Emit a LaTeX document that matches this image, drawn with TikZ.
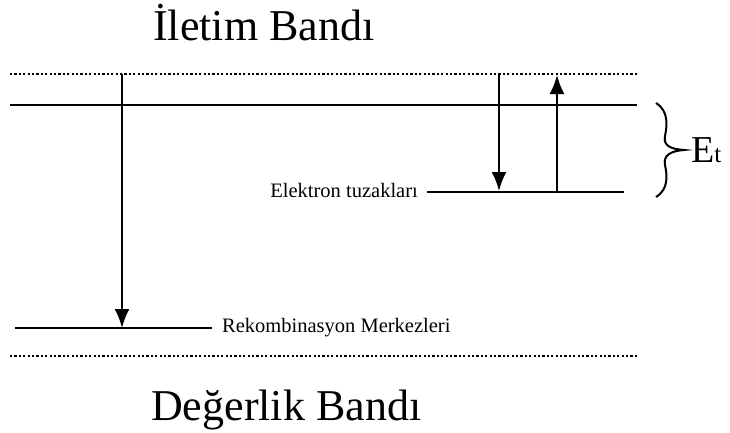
\documentclass[tikz,border=0pt]{standalone}
\usepackage{fontspec}
\setmainfont{Liberation Serif}
\usetikzlibrary{arrows.meta}
\begin{document}
\begin{tikzpicture}[x=1pt,y=-1pt,
  level/.style={line width=2.8pt},
  bandedge/.style={line width=2.3pt,dash pattern=on 2.2pt off 2.2pt},
  transition/.style={line width=2.2pt,-{Latex[length=19pt,width=15pt]}},
  bigtext/.style={inner sep=0pt,font=\fontsize{44}{44}\selectfont},
  smalltext/.style={inner sep=0pt,font=\fontsize{20.5}{20.5}\selectfont}]
\useasboundingbox (0,0) rectangle (730,432);

% band edges (dotted)
\coordinate (cbL) at (10,74);  \coordinate (cbR) at (637,74);
\coordinate (vbL) at (10,356); \coordinate (vbR) at (637,356);
\draw[bandedge] (cbL) -- (cbR);
\draw[bandedge] (vbL) -- (vbR);

% energy levels
\coordinate (shL) at (10,105);  \coordinate (shR) at (637,105);
\coordinate (trL) at (427,192); \coordinate (trR) at (624,192);
\coordinate (rcL) at (15,328);  \coordinate (rcR) at (212,328);
\draw[level] (shL) -- (shR);
\draw[level] (trL) -- (trR);
\draw[level] (rcL) -- (rcR);

% transitions
\coordinate (a1s) at (122,74);  \coordinate (a1e) at (122,328);
\coordinate (a2s) at (499,74);  \coordinate (a2e) at (499,191);
\coordinate (a3s) at (557,192); \coordinate (a3e) at (557,75);
\draw[transition] (a1s) -- (a1e);
\draw[transition] (a2s) -- (a2e);
\draw[transition] (a3s) -- (a3e);

% brace spanning the trap depth
\draw[line width=2pt]
  (656,103) .. controls (669,111) and (667,126) .. (665,136)
  .. controls (663,146) and (671,149) .. (684,150)
  .. controls (671,151) and (663,155) .. (665,165)
  .. controls (667,175) and (669,189) .. (656,197);

% labels
\node[bigtext,anchor=base west] (cb) at (153,40) {İletim Bandı};
\node[bigtext,anchor=base west] (vb) at (151,420) {Değerlik Bandı};
\node[smalltext,anchor=base east] (tr) at (418,197) {Elektron tuzakları};
\node[smalltext,anchor=base west] (rc) at (222,332) {Rekombinasyon Merkezleri};
\node[inner sep=0pt,anchor=base west] (et) at (691,162)
  {\fontsize{38}{38}\selectfont E\fontsize{25}{25}\selectfont t};
\end{tikzpicture}
\end{document}
